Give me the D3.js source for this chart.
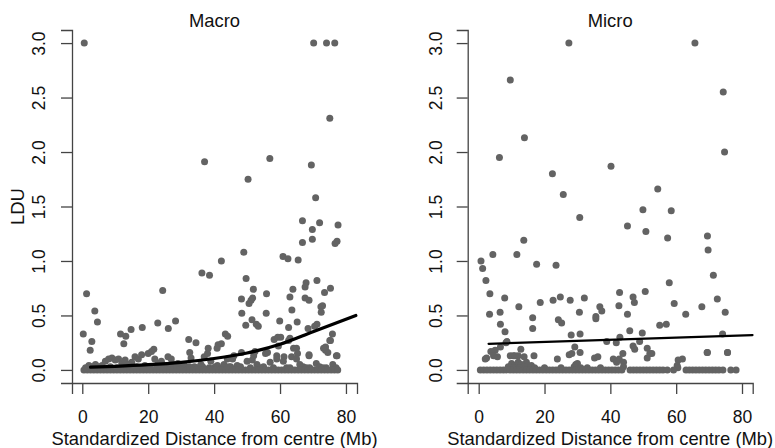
<!DOCTYPE html>
<html>
<head>
<meta charset="utf-8">
<script src="https://cdn.jsdelivr.net/npm/d3@7"></script>
<style>
  html, body { margin: 0; padding: 0; background: #fff; }
  svg { display: block; font-family: "Liberation Sans", Arial, Helvetica, sans-serif; }
</style>
</head>
<body>
<svg id="chart" width="775" height="448"></svg>
<script>
// ---------- DATA ----------
const panelTitles = ["Macro", "Micro"];
const xTickValues = [0, 20, 40, 60, 80];
const yTickValues = [0, 0.5, 1, 1.5, 2, 2.5, 3];
const yTickLabels = ["0.0", "0.5", "1.0", "1.5", "2.0", "2.5", "3.0"];
const xLabel = "Standardized Distance from centre (Mb)";
const yLabel = "LDU";

// Macro: scattered points (x = distance, y = LDU)
const macroX = [0.6,70.2,74.1,76.6,75.1,37.1,56.9,50.3,69.5,70.8,66.8,72.0,77.6,69.8,66.8,69.8,77.3,76.7,49.0,42.2,60.9,62.4,65.5,36.3,38.6,49.7,71.2,67.9,67.6,51.9,75.3,73.5,55.9,63.9,63.0,48.3,51.2,51.7,50.6,67.6,68.8,72.4,72.9,48.4,55.8,63.6,72.5,51.5,49.6,52.8,53.4,59.9,65.2,62.6,71.2,70.5,68.5,43.4,44.1,63.0,58.2,59.3,75.1,75.9,73.2,73.8,64.1,63.5,68.8,77.1,56.2,41.2,38.2,
  0.3,1.3,2.9,2.4,3.8,4.6,11.6,13.2,12.6,14.8,18.2,24.4,22.9,26.1,28.3,21.7,32.3,34.5,32.6,40.9,42.2,45.6,48.3,51.6,52.4,55.6,59.0,59.5,60.2,61.2,62.6,65.0,65.3,73.8,74.5,75.3,77.3,68.8];
const macroY = [3.0,3.0,3.0,3.0,2.31,1.91,1.94,1.75,1.88,1.58,1.37,1.35,1.33,1.29,1.17,1.20,1.18,1.16,1.08,1.0,1.04,1.02,1.01,0.89,0.87,0.84,0.82,0.80,0.76,0.74,0.75,0.71,0.70,0.74,0.67,0.65,0.64,0.66,0.61,0.66,0.64,0.58,0.59,0.52,0.52,0.55,0.53,0.46,0.41,0.42,0.40,0.45,0.44,0.39,0.42,0.40,0.38,0.33,0.31,0.29,0.28,0.30,0.27,0.33,0.20,0.18,0.20,0.12,0.13,0.13,0.16,0.23,0.20,
  0.33,0.70,0.26,0.18,0.54,0.44,0.33,0.31,0.24,0.37,0.39,0.73,0.43,0.38,0.45,0.19,0.28,0.25,0.16,0.20,0.24,0.10,0.16,0.09,0.17,0.15,0.13,0.22,0.30,0.12,0.27,0.20,0.15,0.21,0.16,0.27,0.13,0.14];
// Macro: low-valued cloud just above zero
const macroLowX = [2,4,5,7,8,9,10,11,12,13,15,16,17,18,19,20,21,22,23,24,26,27,28,30,31,33,35,37,38,39,40,43,44,46,47,48,50,52,53,55,57,59,61,62,65,66,67,69,71,72,74,76,6,14,25,29,34,36,41,45,
  1,3,5.5,8.5,10.5,12.5,14.5,16.5,18.5,20.5,22.5,24.5,26.5,28.5,30.5,32.5,34.5,36.5,38.5,40.5,42.5,44.5,47.5,51,54,58,63,68,73,77];
const macroLowY = [0.04,0.05,0.03,0.08,0.10,0.11,0.09,0.10,0.06,0.09,0.07,0.12,0.10,0.14,0.04,0.15,0.17,0.10,0.06,0.08,0.12,0.10,0.05,0.03,0.04,0.11,0.02,0.12,0.15,0.08,0.02,0.05,0.10,0.13,0.04,0.03,0.08,0.13,0.05,0.03,0.07,0.10,0.08,0.02,0.10,0.05,0.03,0.02,0.06,0.03,0.02,0.05,0.04,0.05,0.04,0.06,0.03,0.05,0.04,0.03,
  0.02,0.03,0.02,0.03,0.02,0.03,0.02,0.03,0.02,0.03,0.02,0.03,0.02,0.03,0.02,0.03,0.02,0.03,0.02,0.03,0.02,0.03,0.02,0.02,0.02,0.02,0.02,0.02,0.02,0.02];
// Macro: points at zero
const macroZeroX = [0.5,1.5,2.5,3.5,4.5,5.5,6.5,7.5,8.5,9.5,10.5,11.5,12.5,13.5,14.5,15.5,16.5,17.5,18.5,19.5,20.5,21.5,22.5,23.5,24.5,25.5,26.5,27.5,28.5,29.5,30.5,31.5,32.5,33.5,34.5,35.5,36.5,37.5,38.5,39.5,40.5,41.5,42.5,43.5,44.5,45.5,46.5,47.5,48.5,49.5,50.5,51.5,52.5,53.5,54.5,55.5,56.5,57.5,58.5,59.5,60.5,61.5,62.5,63.5,64.5,65.5,66.5,67.5,68.5,69.5,70.5,71.5,72.5,73.5,74.5,75.5,76.5,77.5];

// Micro: scattered points
const microX = [27.4,65.7,9.6,74.3,13.9,6.3,74.7,40.2,22.4,25.7,54.4,49.9,58.5,30.7,45.2,50.8,57.4,69.5,69.7,71.3,72.5,74.9,75.6,74.1,69.4,67.8,62.9,59.4,57.9,57.0,55.0,61.9,60.6,
  0.7,1.2,2.2,3.4,3.3,4.3,7.9,6.5,6.6,8.0,6.6,5.0,8.6,5.7,2.4,11.6,13.7,12.2,12.8,10.5,12.0,13.8,17.6,16.4,16.4,18.7,16.8,23.5,22.6,24.8,24.2,25.2,23.9,27.8,28.1,30.6,30.8,32.1,29.2,27.5,28.3,30.8,29.5,35.6,35.6,36.8,37.4,38.9,35.2,36.2,41.8,42.9,42.7,44.0,43.8,42.8,42.6,45.2,45.9,46.9,47.3,46.9,47.4,48.9,50.6,49.7,51.2,52.6,51.2,8.3,3.7,4.5,2.0,9.6,11.0,14.5,40.9,41.9,52.0,60.3,75.6,69.5];
const microY = [3.0,3.0,2.66,2.55,2.13,1.95,2.0,1.87,1.80,1.61,1.66,1.47,1.46,1.40,1.32,1.27,1.21,1.23,1.10,0.87,0.65,0.53,0.16,0.33,0.16,0.58,0.51,0.61,0.80,0.42,0.41,0.10,0.09,
  1.0,0.93,0.82,0.70,0.51,1.06,0.66,0.53,0.42,0.35,0.21,0.18,0.26,0.12,0.11,1.06,1.19,0.58,0.19,0.13,0.13,0.12,0.97,0.48,0.38,0.62,0.13,0.96,0.64,0.67,0.46,0.43,0.10,0.64,0.32,0.53,0.33,0.66,0.21,0.14,0.15,0.16,0.05,0.47,0.49,0.58,0.54,0.26,0.11,0.12,0.25,0.30,0.10,0.07,0.15,0.71,0.59,0.51,0.36,0.67,0.62,0.22,0.19,0.26,0.72,0.34,0.20,0.15,0.11,0.25,0.17,0.13,0.10,0.13,0.13,0.07,0.10,0.07,0.15,0.04,0.16,0.16];
// Micro: low-valued cloud
const microLowX = [9,10,11,12,13,14,10.5,12.5,29,30,31,16,20,44,60.5,17,25,33,37];
const microLowY = [0.03,0.06,0.04,0.07,0.05,0.03,0.02,0.02,0.03,0.06,0.02,0.04,0.02,0.03,0.02,0.02,0.02,0.02,0.02];
// Micro: points at zero
const microZeroX = [0.5,1.5,2.5,3.5,4.5,5.5,6.5,7.5,8.5,9.5,10.5,11.5,12.5,13.5,14.5,15.5,16.5,17.5,18.5,19.5,20.5,21.5,22.5,23.5,24.5,25.5,26.5,27.5,28.5,29.5,30.5,31.5,32.5,33.5,34.5,35.5,36.5,37.5,38.5,39.5,40.5,41.5,42.5,43.5,46,47,48,49,50,51,52,53,54,55,56,57.3,59.2,63,64,65,66,67,68,69,70,71,72,73,74.2,76.6,78.2];

// Fitted lines
const macroFitX = [2.5, 10, 20, 30, 40, 50, 60, 70, 83];
const macroFitY = [0.025, 0.033, 0.048, 0.07, 0.105, 0.155, 0.235, 0.35, 0.5];
const microFitX = [3, 83.2];
const microFitY = [0.24, 0.32];

// ---------- DRAW ----------
const svg = d3.select("#chart");
const dotColor = "#636363";
const axisColor = "#444";
const tickFont = 17.5;
const labelFont = 18.4;

const panels = [
  { title: panelTitles[0], left: 72, right: 357, xDomain: [-3.12, 83.35], labelOff: 27, showYLabel: true,
    pts: [[macroX, macroY], [macroLowX, macroLowY], [macroZeroX, macroZeroX.map(() => 0)]],
    fit: [macroFitX, macroFitY], fitWidth: 3.2, curve: d3.curveMonotoneX },
  { title: panelTitles[1], left: 467.7, right: 752.7, xDomain: [-3.34, 83.25], labelOff: 25.5, showYLabel: false,
    pts: [[microX, microY], [microLowX, microLowY], [microZeroX, microZeroX.map(() => 0)]],
    fit: [microFitX, microFitY], fitWidth: 2.2, curve: d3.curveLinear }
];

const plotTop = 30, plotBottom = 383;

panels.forEach(p => {
  const x = d3.scaleLinear().domain(p.xDomain).range([p.left, p.right]);
  const y = d3.scaleLinear().domain([-0.12, 3.12]).range([plotBottom, plotTop]);
  const g = svg.append("g");

  // points
  p.pts.forEach(([xs, ys]) => {
    g.append("g").selectAll("circle")
      .data(xs.map((d, i) => [d, ys[i]]))
      .join("circle")
      .attr("cx", d => x(d[0]))
      .attr("cy", d => y(d[1]))
      .attr("r", 3.5)
      .attr("fill", dotColor);
  });

  // fit line
  const line = d3.line().x(d => x(d[0])).y(d => y(d[1])).curve(p.curve);
  g.append("path")
    .datum(p.fit[0].map((d, i) => [d, p.fit[1][i]]))
    .attr("d", line)
    .attr("fill", "none")
    .attr("stroke", "#000")
    .attr("stroke-width", p.fitWidth)
    .attr("stroke-linecap", "round");

  // x axis
  const xa = g.append("g").attr("transform", `translate(0,${plotBottom})`)
    .call(d3.axisBottom(x).tickValues(xTickValues).tickSizeOuter(0).tickSize(11).tickPadding(17));
  xa.selectAll("path").attr("stroke", axisColor).attr("stroke-width", 1.3);
  xa.selectAll("line").attr("stroke", axisColor).attr("stroke-width", 1.3);
  xa.selectAll("text").attr("font-size", tickFont).attr("fill", "#111")
    .attr("font-family", '"Liberation Sans", Arial, sans-serif');

  // y axis
  const ya = g.append("g").attr("transform", `translate(${p.left},0)`)
    .call(d3.axisLeft(y).tickValues(yTickValues).tickFormat((d, i) => yTickLabels[i]).tickSizeOuter(0).tickSize(11));
  ya.selectAll("path").attr("stroke", axisColor).attr("stroke-width", 1.3);
  ya.selectAll("line").attr("stroke", axisColor).attr("stroke-width", 1.3);
  ya.selectAll("text")
    .attr("font-size", tickFont).attr("fill", "#111")
    .attr("font-family", '"Liberation Sans", Arial, sans-serif')
    .attr("text-anchor", "middle")
    .attr("transform", "rotate(-90)")
    .attr("x", 0).attr("y", -p.labelOff).attr("dy", 0);

  // title
  g.append("text")
    .attr("x", (p.left + p.right) / 2).attr("y", 27)
    .attr("text-anchor", "middle").attr("font-size", labelFont).attr("fill", "#111")
    .text(p.title);

  // x label
  g.append("text")
    .attr("x", (p.left + p.right) / 2).attr("y", 444.5)
    .attr("text-anchor", "middle").attr("font-size", labelFont).attr("fill", "#111")
    .text(xLabel);

  if (p.showYLabel) {
    g.append("text")
      .attr("transform", `translate(24,${(plotTop + plotBottom) / 2}) rotate(-90)`)
      .attr("text-anchor", "middle").attr("font-size", labelFont).attr("fill", "#111")
      .text(yLabel);
  }
});
</script>
</body>
</html>
